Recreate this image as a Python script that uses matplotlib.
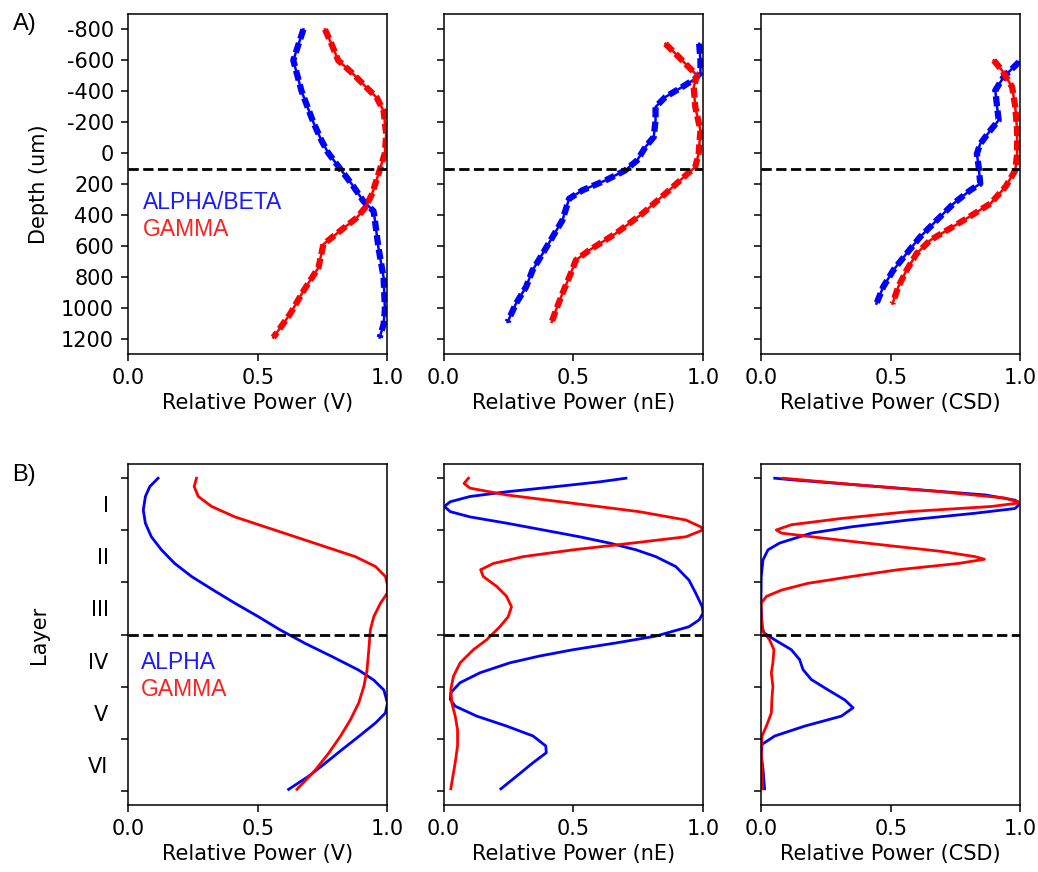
import matplotlib
matplotlib.use('Agg')
import matplotlib.pyplot as plt

plt.rcParams['font.size'] = 15
plt.rcParams['axes.unicode_minus'] = False
plt.rcParams['axes.linewidth'] = 1.1
plt.rcParams['xtick.major.size'] = 5
plt.rcParams['ytick.major.size'] = 5
plt.rcParams['xtick.major.width'] = 1.1
plt.rcParams['ytick.major.width'] = 1.1
plt.rcParams['xtick.major.pad'] = 5
plt.rcParams['ytick.major.pad'] = 5

# ---- A) depth profiles ----
depth_ticks = [-800, -600, -400, -200, 0, 200, 400, 600, 800, 1000, 1200]
border_depth = 100

v_ab_depth = [-800, -600, -400, -200, -80, 0, 100, 200, 310, 375, 415, 610, 805, 1010, 1107, 1193]
v_ab_pow = [0.676, 0.637, 0.669, 0.714, 0.746, 0.772, 0.817, 0.862, 0.907, 0.946, 0.95, 0.965, 0.985, 0.99, 0.985, 0.97]
v_g_depth = [-800, -703, -600, -510, -423, -358, -272, -121, 0, 137, 267, 353, 418, 504, 590, 741, 892, 1043, 1193]
v_g_pow = [0.759, 0.785, 0.81, 0.869, 0.92, 0.959, 0.985, 0.995, 0.99, 0.965, 0.94, 0.914, 0.882, 0.817, 0.753, 0.734, 0.676, 0.624, 0.56]

ne_ab_depth = [-707, -600, -520, -481, -427, -363, -298, -212, -104, -39, 47, 112, 176, 241, 295, 435, 543, 650, 758, 866, 974, 1092]
ne_ab_pow = [0.985, 0.99, 0.99, 0.97, 0.919, 0.855, 0.817, 0.817, 0.81, 0.778, 0.746, 0.70, 0.625, 0.535, 0.484, 0.458, 0.42, 0.382, 0.343, 0.318, 0.279, 0.247]
ne_g_depth = [-707, -643, -556, -503, -427, -298, -147, 4, 90, 155, 262, 392, 521, 629, 693, 780, 909, 1017, 1092]
ne_g_pow = [0.855, 0.894, 0.945, 0.977, 0.964, 0.97, 0.99, 0.983, 0.97, 0.926, 0.855, 0.766, 0.663, 0.561, 0.51, 0.49, 0.458, 0.433, 0.417]

csd_ab_depth = [-589, -556, -492, -406, -298, -212, -147, -60, 4, 90, 198, 241, 327, 435, 543, 650, 758, 866, 974]
csd_ab_pow = [0.994, 0.974, 0.935, 0.903, 0.91, 0.916, 0.884, 0.845, 0.832, 0.839, 0.845, 0.806, 0.742, 0.677, 0.613, 0.561, 0.51, 0.471, 0.445]
csd_g_depth = [-600, -535, -427, -298, -147, 4, 112, 219, 327, 435, 500, 564, 650, 758, 866, 974]
csd_g_pow = [0.897, 0.929, 0.968, 0.98, 0.987, 0.987, 0.98, 0.942, 0.884, 0.781, 0.716, 0.652, 0.60, 0.561, 0.529, 0.507]

# ---- B) layer profiles ----
layer_names = ['I', 'II', 'III', 'IV', 'V', 'VI']
layer_bounds = [0, 1, 2, 3, 4, 5, 6]
border_layer = 3

bv_a_layer = [0.01, 0.17, 0.36, 0.62, 0.87, 1.13, 1.38, 1.64, 1.89, 2.15, 2.40, 2.66, 2.91, 3.17, 3.42, 3.68,
              3.87, 4.06, 4.31, 4.50, 4.69, 4.95, 5.20, 5.46, 5.71, 5.96]
bv_a_pow = [0.116, 0.084, 0.067, 0.059, 0.067, 0.09, 0.129, 0.18, 0.245, 0.329, 0.412, 0.503, 0.586, 0.683, 0.786, 0.889,
            0.947, 0.986, 1.0, 0.992, 0.954, 0.889, 0.825, 0.76, 0.696, 0.619]
bv_g_layer = [0.01, 0.17, 0.36, 0.55, 0.75, 0.94, 1.13, 1.32, 1.51, 1.70, 1.89, 2.05, 2.21, 2.40, 2.66, 2.91,
              3.29, 3.68, 3.99, 4.31, 4.63, 4.95, 5.27, 5.59, 5.96]
bv_g_pow = [0.264, 0.255, 0.271, 0.322, 0.412, 0.528, 0.644, 0.76, 0.876, 0.954, 0.992, 1.0, 0.999, 0.973, 0.947, 0.934,
            0.928, 0.921, 0.909, 0.889, 0.857, 0.818, 0.773, 0.722, 0.651]

bne_a_layer = [0.01, 0.08, 0.17, 0.27, 0.36, 0.46, 0.55, 0.65, 0.75, 0.87, 1.0, 1.13, 1.25, 1.38, 1.51, 1.70, 1.96,
               2.21, 2.47, 2.59, 2.72, 2.85, 3.03, 3.16, 3.29, 3.41, 3.54, 3.73, 3.92, 4.11, 4.24, 4.37, 4.56,
               4.75, 4.94, 5.13, 5.26, 5.45, 5.71, 5.95]
bne_a_pow = [0.703, 0.601, 0.435, 0.243, 0.102, 0.026, 0.003, 0.026, 0.102, 0.243, 0.384, 0.524, 0.639, 0.742, 0.818,
             0.895, 0.946, 0.972, 0.997, 1.0, 0.985, 0.946, 0.818, 0.665, 0.499, 0.371, 0.256, 0.141, 0.064, 0.028,
             0.026, 0.045, 0.128, 0.243, 0.345, 0.394, 0.396, 0.345, 0.281, 0.221]
bne_g_layer = [0.01, 0.11, 0.20, 0.33, 0.49, 0.65, 0.81, 0.94, 1.0, 1.13, 1.25, 1.38, 1.51, 1.64, 1.76, 1.89, 2.08,
               2.27, 2.47, 2.66, 2.85, 3.10, 3.29, 3.54, 3.80, 4.05, 4.31, 4.56, 4.82, 5.13, 5.45, 5.71, 5.95]
bne_g_pow = [0.096, 0.079, 0.102, 0.243, 0.499, 0.754, 0.934, 0.991, 1.0, 0.934, 0.729, 0.499, 0.307, 0.192, 0.143,
             0.153, 0.205, 0.243, 0.262, 0.249, 0.217, 0.166, 0.115, 0.064, 0.038, 0.028, 0.032, 0.045, 0.054,
             0.054, 0.045, 0.036, 0.028]

bcsd_a_layer = [0.01, 0.04, 0.14, 0.24, 0.33, 0.43, 0.49, 0.59, 0.68, 0.81, 0.94, 1.06, 1.16, 1.25, 1.38, 1.57, 1.89,
                2.40, 2.85, 2.97, 3.10, 3.29, 3.48, 3.67, 3.86, 4.06, 4.25, 4.40, 4.56, 4.75, 4.94, 5.10, 5.32,
                5.58, 5.95]
bcsd_a_pow = [0.053, 0.117, 0.375, 0.632, 0.864, 0.979, 1.0, 0.979, 0.825, 0.568, 0.349, 0.194, 0.13, 0.072, 0.027,
              0.008, 0.001, 0.0, 0.004, 0.012, 0.053, 0.117, 0.149, 0.162, 0.194, 0.259, 0.323, 0.355, 0.31, 0.169,
              0.053, 0.004, 0.001, 0.008, 0.014]
bcsd_g_layer = [0.01, 0.14, 0.27, 0.39, 0.48, 0.55, 0.65, 0.78, 0.90, 1.0, 1.06, 1.16, 1.29, 1.41, 1.51, 1.56, 1.64,
                1.76, 1.89, 2.02, 2.15, 2.27, 2.40, 2.66, 2.94, 3.10, 3.29, 3.54, 3.73, 3.99, 4.25, 4.50, 4.75,
                4.94, 5.20, 5.58, 5.95]
bcsd_g_pow = [0.085, 0.375, 0.696, 0.941, 1.0, 0.889, 0.568, 0.31, 0.117, 0.059, 0.079, 0.246, 0.477, 0.696, 0.825,
              0.861, 0.761, 0.529, 0.349, 0.181, 0.079, 0.021, 0.001, 0.001, 0.008, 0.033, 0.05, 0.046, 0.04, 0.046,
              0.042, 0.04, 0.021, 0.004, 0.001, 0.004, 0.006]

xlabels = ['Relative Power (V)', 'Relative Power (nE)', 'Relative Power (CSD)']
lefts = [0.1233, 0.4273, 0.7331]
width = 0.25

fig = plt.figure(figsize=(10.38, 8.72), dpi=100)

top_data = [
    (v_ab_depth, v_ab_pow, v_g_depth, v_g_pow),
    (ne_ab_depth, ne_ab_pow, ne_g_depth, ne_g_pow),
    (csd_ab_depth, csd_ab_pow, csd_g_depth, csd_g_pow),
]
bottom_data = [
    (bv_a_layer, bv_a_pow, bv_g_layer, bv_g_pow),
    (bne_a_layer, bne_a_pow, bne_g_layer, bne_g_pow),
    (bcsd_a_layer, bcsd_a_pow, bcsd_g_layer, bcsd_g_pow),
]

for i in range(3):
    # top row
    ax = fig.add_axes([lefts[i], 0.594, width, 0.390])
    ad, ap, gd, gp = top_data[i]
    for d, p, c in [(ad, ap, 'blue'), (gd, gp, 'red')]:
        ax.plot(p, d, color=c, lw=4.5, ls=(0, (1.6, 0.7)))
        ax.plot(p, d, color=c, lw=1.8)
    ax.axhline(border_depth, color='black', ls='--', lw=2)
    ax.set_xlim(0, 1)
    ax.set_ylim(1300, -900)
    ax.set_yticks(depth_ticks)
    ax.set_xticks([0, 0.5, 1.0])
    ax.set_xlabel(xlabels[i])
    if i == 0:
        ax.set_ylabel('Depth (um)')
        ax.yaxis.set_label_coords(-0.305, 0.5)
        ax.text(0.058, 0.447, 'ALPHA/BETA', color='#1a1aff', fontsize=16.5,
                family='Liberation Sans', transform=ax.transAxes, va='center')
        ax.text(0.058, 0.365, 'GAMMA', color='#ff2020', fontsize=16.5,
                family='Liberation Sans', transform=ax.transAxes, va='center')
    else:
        ax.set_yticklabels([])

    # bottom row
    ax = fig.add_axes([lefts[i], 0.0768, width, 0.391])
    al, ap, gl, gp = bottom_data[i]
    ax.plot(ap, al, color='blue', lw=2)
    ax.plot(gp, gl, color='red', lw=2)
    ax.axhline(border_layer, color='black', ls='--', lw=2)
    ax.set_xlim(0, 1)
    ax.set_ylim(6.26, -0.26)
    ax.set_yticks(layer_bounds)
    ax.set_yticklabels([])
    ax.set_yticks([b + 0.5 for b in layer_bounds[:-1]], minor=True)
    ax.tick_params(axis='y', which='minor', length=0, pad=14)
    ax.set_xticks([0, 0.5, 1.0])
    ax.set_xlabel(xlabels[i])
    if i == 0:
        ax.set_yticklabels(layer_names, minor=True)
        ax.set_ylabel('Layer')
        ax.yaxis.set_label_coords(-0.305, 0.5)
        ax.text(0.05, 0.419, 'ALPHA', color='#1a1aff', fontsize=16.5,
                family='Liberation Sans', transform=ax.transAxes, va='center')
        ax.text(0.05, 0.340, 'GAMMA', color='#ff2020', fontsize=16.5,
                family='Liberation Sans', transform=ax.transAxes, va='center')
    else:
        ax.set_yticklabels([], minor=True)

fig.text(0.012, 0.972, 'A)', fontsize=17, family='Liberation Sans', va='center')
fig.text(0.012, 0.455, 'B)', fontsize=17, family='Liberation Sans', va='center')

fig.savefig('out.png', dpi=100)
